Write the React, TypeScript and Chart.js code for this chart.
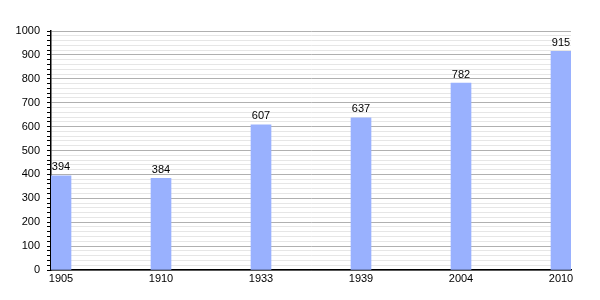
import React, { useEffect, useRef } from "react";
import { Chart, registerables } from "chart.js";

Chart.register(...registerables);

const years = ["1905", "1910", "1933", "1939", "2004", "2010"];
const population = [394, 384, 607, 637, 782, 915];
const yMax = 1000;
const yStep = 20;

const valueLabels = {
  id: "valueLabels",
  afterDatasetsDraw(chart: any) {
    const ctx = chart.ctx;
    const meta = chart.getDatasetMeta(0);
    ctx.save();
    ctx.font = "11px 'Liberation Sans', Arial, sans-serif";
    ctx.fillStyle = "#000";
    ctx.textAlign = "center";
    ctx.textBaseline = "bottom";
    meta.data.forEach((el: any, i: number) => {
      ctx.fillText(String(population[i]), el.x, el.y - 3);
    });
    ctx.restore();
  },
};

export default function App() {
  const ref = useRef<HTMLCanvasElement | null>(null);
  useEffect(() => {
    document.body.style.margin = "0";
    const chart = new Chart(ref.current as HTMLCanvasElement, {
      type: "bar",
      data: {
        datasets: [
          {
            data: population.map((v, i) => ({ x: i, y: v })),
            backgroundColor: "#99b1fe",
            barThickness: 20,
            borderWidth: 0,
          },
        ],
      },
      plugins: [valueLabels],
      options: {
        animation: false,
        responsive: false,
        maintainAspectRatio: false,
        layout: { padding: { top: 31, right: 29, left: 0, bottom: 0 } },
        plugins: { legend: { display: false }, tooltip: { enabled: false } },
        scales: {
          x: {
            type: "linear",
            offset: false,
            min: -0.1,
            max: 5.1,
            afterBuildTicks: (scale: any) => {
              scale.ticks = years.map((_, i) => ({ value: i }));
            },
            afterFit: (scale: any) => {
              scale.height = 30;
            },
            grid: { display: false, drawTicks: false },
            border: { display: true, color: "#000", width: 1.5 },
            ticks: {
              callback: (v: any) => years[v] ?? "",
              color: "#000",
              font: { family: "'Liberation Sans', Arial, sans-serif", size: 11 },
              padding: 2,
              maxRotation: 0,
              autoSkip: false,
            },
          },
          y: {
            min: 0,
            max: yMax,
            afterFit: (scale: any) => {
              scale.width = 51;
            },
            ticks: {
              stepSize: yStep,
              autoSkip: false,
              color: "#000",
              font: { family: "'Liberation Sans', Arial, sans-serif", size: 11 },
              padding: 7,
              callback: (v: any) => (Number(v) % 100 === 0 ? String(v) : ""),
            },
            grid: {
              color: (c: any) =>
                c.tick && c.tick.value % 100 === 0 ? "#b0b0b0" : "#e6e6e6",
              tickColor: "#000",
              tickLength: 4,
              lineWidth: 1,
            },
            border: { display: true, color: "#000", width: 1.5 },
          },
        },
      },
    } as any);
    return () => chart.destroy();
  }, []);
  return (
    <div style={{ width: 600, height: 300, background: "#fff" }}>
      <canvas ref={ref} width={600} height={300} />
    </div>
  );
}
